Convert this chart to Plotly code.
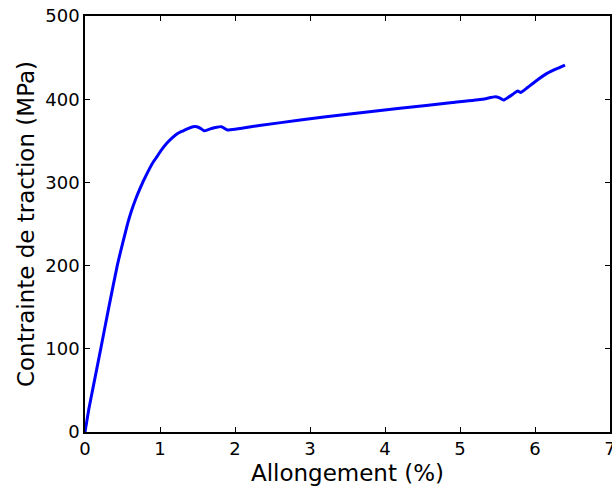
import plotly.graph_objects as go

allongement = [0.0, 0.05, 0.11, 0.21, 0.32, 0.43, 0.50, 0.57, 0.62, 0.68, 0.74, 0.78, 0.84, 0.90, 0.96, 1.02, 1.09, 1.17, 1.24, 1.31, 1.38, 1.44, 1.49, 1.54, 1.59, 1.66, 1.74, 1.82, 1.86, 1.90, 2.3, 2.87, 3.5, 4.2, 4.9, 5.3, 5.47, 5.52, 5.58, 5.64, 5.72, 5.77, 5.81, 5.9, 6.0, 6.16, 6.3, 6.40]
contrainte = [0, 27, 54.5, 100, 151, 200, 226, 251, 266, 281, 294, 302, 313, 323, 331, 339, 347, 354, 359, 362, 365, 367, 367, 365, 362, 364, 366, 367, 365, 363, 368, 375, 382, 389, 396, 400, 403, 402, 399, 402, 407, 410, 408, 414, 421, 431, 437, 441]

x_ticks = [0, 1, 2, 3, 4, 5, 6, 7]
y_ticks = [0, 100, 200, 300, 400, 500]

fig = go.Figure(go.Scatter(x=allongement, y=contrainte, mode="lines",
                           line=dict(color="#0000ff", width=3, shape="spline", smoothing=0.4)))

tick_font = dict(family="DejaVu Sans", size=18, color="black")
title_font = dict(family="DejaVu Sans", size=23, color="black")
axis_common = dict(showgrid=False, zeroline=False, showline=True, linecolor="black",
                   linewidth=1.5, mirror="allticks", ticks="inside", ticklen=5,
                   tickcolor="black", tickwidth=1, tickfont=tick_font, automargin=False,
                   ticklabeloverflow="allow")

fig.update_layout(
    width=612, height=492,
    margin=dict(l=85, r=2, t=16, b=60),
    paper_bgcolor="white", plot_bgcolor="white",
    showlegend=False,
    xaxis=dict(range=[0, 7], tickvals=x_ticks, ticktext=[str(t) for t in x_ticks],
               title=dict(text="Allongement (%)", font=title_font, standoff=7), **axis_common),
    yaxis=dict(range=[0, 500], tickvals=y_ticks, ticktext=[str(t) for t in y_ticks],
               title=dict(text="Contrainte de traction (MPa)", font=title_font, standoff=4), **axis_common),
)

fig.write_html("out.html", config={"displayModeBar": False},
               post_script="document.body.style.margin='0';document.body.style.overflow='hidden';")
